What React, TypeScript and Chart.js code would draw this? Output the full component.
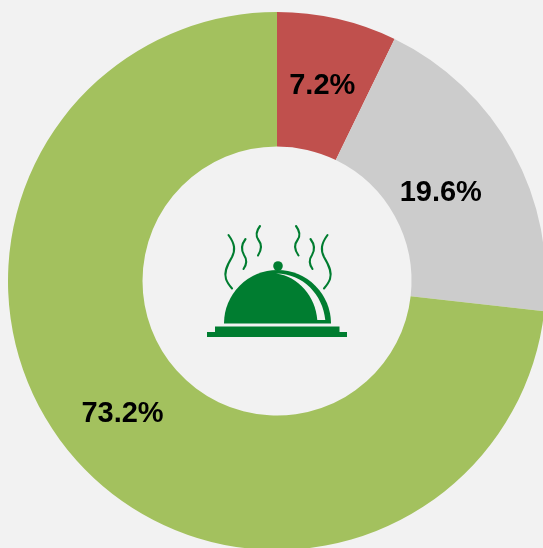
import React, { useEffect, useRef } from "react";
import { Chart, registerables } from "chart.js";

Chart.register(...registerables);

const categories = ["Red share", "Grey share", "Green share"];
const values = [7.2, 19.6, 73.2];
const labels = ["7.2%", "19.6%", "73.2%"];
const colors = ["#C0504D", "#CCCCCC", "#A3C15E"];

const INK = "#007D30";
const BG = "#F2F2F2";

const steam = [
  "M228.5 235 C235 244 235.5 250 232 257 C226 267 224 273 226 279 C227 282 229 285 232 288.5",
  "M245.5 239 C241 245 241 250 244 255 C247.5 260 247 264 243.5 269",
  "M260 226 C255.5 232 255.5 236 258.5 240 C262.5 245 261.5 250 258 255.5",
  "M296 226 C300.5 232 300.5 236 297.5 240 C293.5 245 294.5 250 298.5 255.5",
  "M310.5 239 C315 245 315 250 312 255 C308.5 260 309 264 312.5 269",
  "M327.5 235 C321 244 320.5 250 324 257 C330 267 332 273 330 279 C329 282 327 285 324 288.5",
];

const iconPlugin = {
  id: "icon",
  afterDatasetsDraw(chart: Chart) {
    const { ctx } = chart;
    ctx.save();
    ctx.fillStyle = INK;
    ctx.strokeStyle = INK;
    ctx.lineWidth = 2.1;
    ctx.lineCap = "round";
    steam.forEach((d) => ctx.stroke(new Path2D(d)));
    ctx.fillRect(207, 332, 140, 5);
    ctx.fillRect(215, 326.5, 124.5, 5.5);
    ctx.beginPath();
    ctx.moveTo(224, 323.5);
    ctx.arc(277.5, 323.5, 53.5, Math.PI, 0);
    ctx.closePath();
    ctx.fill();
    ctx.beginPath();
    ctx.arc(278, 266, 4.8, 0, Math.PI * 2);
    ctx.fill();
    ctx.fillStyle = BG;
    ctx.fill(new Path2D("M276 273.6 C303 273.5 323 295 325.3 320 L317.3 320 C316 297 298 276 276 273.6 Z"));
    ctx.restore();
  },
};

const labelPlugin = {
  id: "sliceLabels",
  afterDatasetsDraw(chart: Chart) {
    const { ctx } = chart;
    const arcs = chart.getDatasetMeta(0).data;
    const shifts = [[0, 2], [-13, 9], [-4, -1]];
    ctx.save();
    ctx.font = 'bold 29px "Liberation Sans", Arial, sans-serif';
    ctx.fillStyle = "#000000";
    ctx.textAlign = "center";
    ctx.textBaseline = "middle";
    arcs.forEach((arc: any, i: number) => {
      const p = arc.tooltipPosition();
      ctx.fillText(labels[i], p.x + shifts[i][0], p.y + shifts[i][1]);
    });
    ctx.restore();
  },
};

export default function App() {
  const ref = useRef<HTMLCanvasElement>(null);
  useEffect(() => {
    document.body.style.margin = "0";
    document.body.style.background = BG;
    document.body.style.overflow = "hidden";
    const chart = new Chart(ref.current!, {
      type: "doughnut",
      data: {
        labels: categories,
        datasets: [{ data: values, backgroundColor: colors, borderWidth: 0, hoverOffset: 0 }],
      },
      options: {
        animation: false,
        responsive: false,
        cutout: "50%",
        layout: { padding: 8 },
        plugins: { legend: { display: false }, tooltip: { enabled: false } },
      },
      plugins: [iconPlugin, labelPlugin],
    });
    return () => chart.destroy();
  }, []);
  return (
    <div style={{ width: 543, height: 548, overflow: "hidden", background: BG }}>
      <canvas ref={ref} width={554} height={562} />
    </div>
  );
}
